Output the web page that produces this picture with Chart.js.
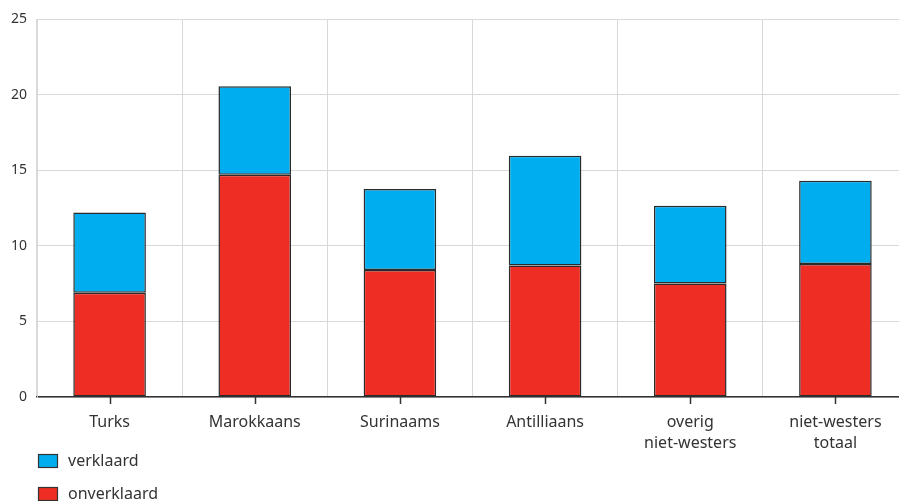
<!DOCTYPE html>
<html>
<head>
<meta charset="utf-8">
<script src="https://cdn.jsdelivr.net/npm/chart.js@4/dist/chart.umd.min.js"></script>
<style>
  html, body { margin: 0; padding: 0; background: #fff; overflow: hidden; }
  #wrap { position: relative; width: 908px; height: 501px; }
</style>
</head>
<body>
<div id="wrap"><canvas id="c"></canvas></div>
<script>
const categories = ['Turks', 'Marokkaans', 'Surinaams', 'Antilliaans', ['overig', 'niet-westers'], ['niet-westers', 'totaal']];
const onverklaard = [6.9, 14.7, 8.4, 8.7, 7.5, 8.8];
const verklaard = [5.3, 5.85, 5.35, 7.25, 5.15, 5.5];
const yTicks = [0, 5, 10, 15, 20, 25];

const FONT = '"Noto Sans", "Open Sans", sans-serif';
const TXT = '#333333';
const GRID = '#d9d9d9';

const centerTicks = {
  id: 'centerTicks',
  afterDraw(chart) {
    const ctx = chart.ctx, x = chart.scales.x, a = chart.chartArea;
    ctx.save();
    ctx.strokeStyle = TXT;
    ctx.lineWidth = 1.5;
    categories.forEach((c, i) => {
      const px = Math.round(x.getPixelForValue(i)) + 0.5;
      ctx.beginPath();
      ctx.moveTo(px, a.bottom);
      ctx.lineTo(px, a.bottom + 7);
      ctx.stroke();
    });
    // legend (vertical, bottom-left)
    const items = [chart.data.datasets[1], chart.data.datasets[0]];
    ctx.font = '16px ' + FONT;
    ctx.textBaseline = 'middle';
    ctx.textAlign = 'left';
    items.forEach((ds, i) => {
      const bx = a.left + 1.5, by = a.bottom + 57.5 + i * 33;
      ctx.fillStyle = ds.backgroundColor;
      ctx.fillRect(bx, by, 19, 13);
      ctx.lineWidth = 1.2;
      ctx.strokeStyle = TXT;
      ctx.strokeRect(bx, by, 19, 13);
      ctx.fillStyle = TXT;
      ctx.fillText(ds.label, a.left + 31, by + 6.5);
    });
    ctx.restore();
  }
};

new Chart(document.getElementById('c'), {
  type: 'bar',
  data: {
    labels: categories,
    datasets: [
      { label: 'onverklaard', data: onverklaard, backgroundColor: '#ee2e24', borderColor: '#2b2b2b', borderWidth: 1.5, borderSkipped: false },
      { label: 'verklaard', data: verklaard, backgroundColor: '#00adee', borderColor: '#2b2b2b', borderWidth: 1.5, borderSkipped: false }
    ]
  },
  options: {
    responsive: true,
    maintainAspectRatio: false,
    animation: false,
    layout: { padding: { top: 19, left: 0, right: 0, bottom: 0 } },
    datasets: { bar: { categoryPercentage: 1, barPercentage: 0.5 } },
    plugins: { legend: { display: false }, tooltip: { enabled: false } },
    scales: {
      x: {
        stacked: true,
        offset: true,
        grid: { offset: true, color: GRID, drawTicks: false, lineWidth: 1 },
        border: { color: TXT, width: 1.5 },
        ticks: { color: TXT, font: { family: FONT, size: 16, lineHeight: 1.33 }, padding: 15, maxRotation: 0, autoSkip: false },
        afterFit(s) { s.height = 104; }
      },
      y: {
        stacked: true,
        min: 0,
        max: 25,
        afterBuildTicks(s) { s.ticks = yTicks.map(v => ({ value: v })); },
        grid: { color: GRID, drawTicks: false, lineWidth: 1 },
        border: { color: GRID, width: 1 },
        ticks: { color: TXT, font: { family: FONT, size: 14 }, padding: 10 },
        afterFit(s) { s.width = 37; }
      }
    }
  },
  plugins: [centerTicks]
});
</script>
</body>
</html>
